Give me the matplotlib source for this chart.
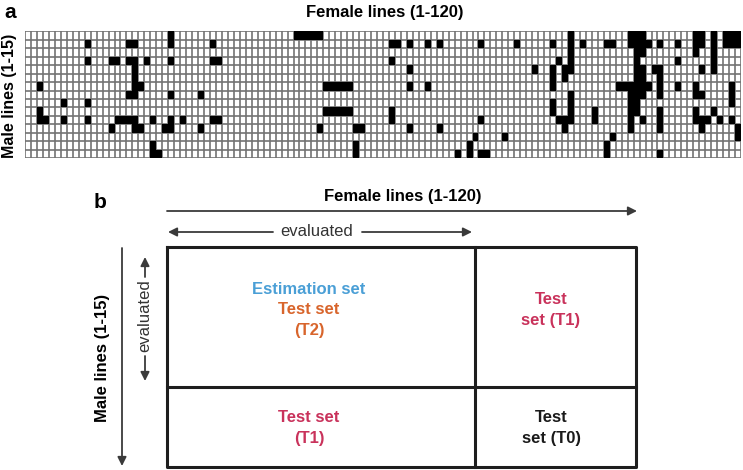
import numpy as np
import matplotlib
matplotlib.use("Agg")
import matplotlib.pyplot as plt

# ---------------- data ----------------
n_male = 15
n_female = 120

# black cells per male line (row 0 = top), female line index 0..119
crossed = [
    [24, 45, 46, 47, 48, 49, 91, 101, 102, 103, 112, 113, 115, 117, 118, 119],
    [10, 17, 18, 24, 31, 61, 62, 64, 67, 69, 76, 82, 88, 91, 93, 97, 98,
     101, 102, 103, 104, 106, 109, 112, 113, 115, 117, 118, 119],
    [91, 102, 103, 112, 115],
    [10, 14, 15, 17, 18, 20, 24, 31, 32, 61, 89, 91, 102, 109, 115],
    [18, 64, 85, 88, 90, 91, 102, 103, 105, 106, 113, 115],
    [18, 88, 90, 102, 103, 106],
    [2, 18, 19, 50, 51, 52, 53, 54, 64, 67, 88, 99, 100, 101, 102, 103, 104,
     106, 109, 112, 118],
    [17, 18, 24, 29, 91, 101, 102, 103, 106, 112, 113, 118],
    [6, 10, 88, 91, 101, 102, 118],
    [2, 50, 51, 52, 53, 54, 61, 88, 91, 95, 101, 102, 106, 112, 115],
    [2, 3, 6, 10, 15, 16, 17, 18, 21, 24, 26, 31, 32, 61, 76, 89, 90, 91, 95,
     101, 103, 106, 112, 113, 114, 116, 118],
    [14, 18, 19, 23, 24, 29, 49, 55, 56, 64, 69, 90, 101, 106, 113, 119],
    [75, 80, 98, 119],
    [21, 55, 74, 97],
    [21, 22, 55, 72, 74, 76, 77, 97, 106],
]

female_label = "Female lines (1-120)"
male_label = "Male lines (1-15)"

blue = "#4a9fd6"
orange = "#d8652c"
crimson = "#c9325b"

plt.rcParams['font.family'] = ["Liberation Sans", "DejaVu Sans"]

W, H = 743, 470
fig = plt.figure(figsize=(W / 100, H / 100), dpi=100)

# ---------------- panel a: grid ----------------
grid = np.zeros((n_male, n_female))
for r, cols in enumerate(crossed):
    grid[r, cols] = 1

ax = fig.add_axes([25 / W, 1 - 158 / H, 716 / W, 126.5 / H])
ax.vlines(np.arange(n_female + 1), 0, n_male, color="#737373", lw=1.2, zorder=1)
ax.hlines(np.arange(n_male + 1), 0, n_female, color="#737373", lw=1.2, zorder=1)
blk = np.ma.masked_where(grid == 0, grid)
ax.pcolormesh(blk, cmap="gray_r", vmin=0, vmax=1, edgecolors="none", zorder=2)
ax.set_xlim(0, n_female)
ax.set_ylim(n_male, 0)
ax.set_xticks([]); ax.set_yticks([])
for s in ax.spines.values():
    s.set_visible(False)

# ---------------- panel b: schematic (pixel coords) ----------------
ov = fig.add_axes([0, 0, 1, 1])
ov.set_xlim(0, W); ov.set_ylim(H, 0)
ov.axis("off")

ov.text(4, 12, "a", fontsize=15, fontweight="bold", va="center", ha="left")
ov.text(385, 13, female_label, fontsize=12, fontweight="bold", ha="center", va="center")
ov.text(10, 96, male_label, fontsize=11.5, fontweight="bold", rotation=90,
        ha="center", va="center")

ov.text(100, 202, "b", fontsize=15, fontweight="bold", va="center", ha="center")
ov.text(403, 196, female_label, fontsize=12, fontweight="bold", ha="center", va="center")

ap = dict(arrowstyle="-|>", color="#3a3a3a", lw=1.3, mutation_scale=13,
          shrinkA=0, shrinkB=0)
ov.annotate("", xy=(637, 211), xytext=(167, 211), arrowprops=ap)
ov.annotate("", xy=(168, 232), xytext=(273, 232), arrowprops=ap)
ov.annotate("", xy=(472, 232), xytext=(362, 232), arrowprops=ap)
ov.text(317, 232, "evaluated", fontsize=12, color="#333333", ha="center", va="center")

ov.annotate("", xy=(122, 466), xytext=(122, 248), arrowprops=ap)
ov.annotate("", xy=(145, 257), xytext=(145, 277), arrowprops=ap)
ov.annotate("", xy=(145, 381), xytext=(145, 356), arrowprops=ap)
ov.text(145, 316, "evaluated", fontsize=12, color="#333333", rotation=90,
        ha="center", va="center")
ov.text(102, 358, male_label, fontsize=12, fontweight="bold", rotation=90,
        ha="center", va="center")

L, R, T, B = 167, 636, 247, 467
xm, ym = 475, 387
lk = dict(color="#1e1e1e", lw=2.2, solid_capstyle="projecting")
ov.plot([L, R, R, L, L], [T, T, B, B, T], **lk)
ov.plot([xm, xm], [T, B], **lk)
ov.plot([L, R], [ym, ym], **lk)

tk = dict(fontsize=12, fontweight="bold", ha="center", va="center")
ov.text(309, 289, "Estimation set", color=blue, **tk)
ov.text(309, 309, "Test set", color=orange, **tk)
ov.text(309, 330, "(T2)", color=orange, **tk)
ov.text(309, 418, "Test set", color=crimson, **tk)
ov.text(309, 439, "(T1)", color=crimson, **tk)
ov.text(551, 299, "Test", color=crimson, **tk)
ov.text(551, 320, "set (T1)", color=crimson, **tk)
ov.text(551, 418, "Test", color="#1a1a1a", **tk)
ov.text(551, 439, "set (T0)", color="#1a1a1a", **tk)

fig.savefig("out.png", dpi=100)
